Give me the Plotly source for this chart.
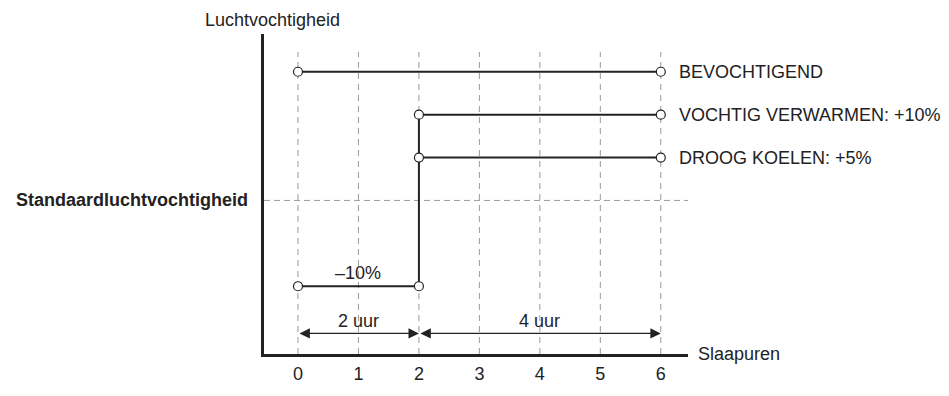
import plotly.graph_objects as go

# uren (x) en luchtvochtigheid t.o.v. standaard (y, in %)
hours = [0, 1, 2, 3, 4, 5, 6]
bevochtigend_x = [0, 6]
bevochtigend_y = [15, 15]
min10_x = [0, 2]
min10_y = [-10, -10]
step_x = [2, 2]
step_y = [-10, 10]
vochtig_x = [2, 6]
vochtig_y = [10, 10]
droog_x = [2, 6]
droog_y = [5, 5]
standard_level = 0
series_labels = ["BEVOCHTIGEND", "VOCHTIG VERWARMEN: +10%", "DROOG KOELEN: +5%"]
series_levels = [15, 10, 5]
spans = [(0, 2, "2 uur"), (2, 6, "4 uur")]
span_y = -15.5
grid_top = 17.3
y_range = [-17.9, 19.4]
x_range = [-0.562, 6.45]

FONT = "Liberation Sans, Arial, sans-serif"
GRID = "#9a9a9a"
INK = "#222"
FS = 18

fig = go.Figure()

# verticale stippellijnen per uur
gx, gy = [], []
for h in hours:
    gx += [h, h, None]
    gy += [y_range[0], grid_top, None]
fig.add_trace(go.Scatter(x=gx, y=gy, mode="lines",
                         line=dict(color=GRID, width=1, dash="6px,5px"),
                         hoverinfo="skip"))
# standaardniveau
fig.add_trace(go.Scatter(x=[x_range[0], x_range[1]], y=[standard_level] * 2, mode="lines",
                         line=dict(color=GRID, width=1, dash="6px,4px"),
                         hoverinfo="skip"))

# trap (verticaal op 2 uur)
fig.add_trace(go.Scatter(x=step_x, y=step_y, mode="lines",
                         line=dict(color=INK, width=2), hoverinfo="skip"))

marker = dict(symbol="circle", size=9, color="white", line=dict(color=INK, width=1.2))
for xs, ys in [(bevochtigend_x, bevochtigend_y), (min10_x, min10_y),
               (vochtig_x, vochtig_y), (droog_x, droog_y)]:
    fig.add_trace(go.Scatter(x=xs, y=ys, mode="lines+markers",
                             line=dict(color=INK, width=2), marker=marker,
                             cliponaxis=False, hoverinfo="skip"))

annotations = []
for label, lvl in zip(series_labels, series_levels):
    annotations.append(dict(x=6.276, y=lvl, xref="x", yref="y", text=label,
                            showarrow=False, xanchor="left", yanchor="middle"))
annotations.append(dict(x=1, y=-8.4, xref="x", yref="y", text="–10%", showarrow=False))
for a, b, label in spans:
    annotations.append(dict(x=b, y=span_y, ax=a, ay=span_y, xref="x", yref="y",
                            axref="x", ayref="y", text="", showarrow=True,
                            arrowhead=2, startarrowhead=2, arrowside="end+start",
                            arrowsize=1.6, startarrowsize=1.6, arrowwidth=1.3,
                            arrowcolor=INK, standoff=0, startstandoff=0))
    annotations.append(dict(x=(a + b) / 2, y=-14.0, xref="x", yref="y", text=label,
                            showarrow=False))

# plot area: x 264..688 px, y 34..368 px
annotations += [
    dict(x=(272 - 264) / 424, y=(368 - 19.5) / 334, xref="paper", yref="paper",
         text="Luchtvochtigheid", showarrow=False, xanchor="center", yanchor="middle"),
    dict(x=(250 - 264) / 424, y=standard_level, xref="paper", yref="y",
         text="<b>Standaardluchtvochtigheid</b>", showarrow=False,
         xanchor="right", yanchor="middle"),
    dict(x=(696 - 264) / 424, y=y_range[0], xref="paper", yref="y", text="Slaapuren",
         showarrow=False, xanchor="left", yanchor="middle"),
]

fig.update_layout(
    width=949, height=396,
    margin=dict(l=264, r=261, t=34, b=28),
    paper_bgcolor="white", plot_bgcolor="white",
    showlegend=False,
    font=dict(family=FONT, size=FS, color=INK),
    annotations=annotations,
)
fig.update_xaxes(range=x_range, showgrid=False, zeroline=False,
                 showline=True, linecolor=INK, linewidth=3,
                 tickvals=hours, ticks="", ticklabelstandoff=1,
                 tickfont=dict(size=FS, color=INK))
fig.update_yaxes(range=y_range, showgrid=False, zeroline=False,
                 showline=True, linecolor=INK, linewidth=3,
                 showticklabels=False, ticks="")

fig.write_html("out.html", config={"displayModeBar": False},
               post_script="document.body.style.margin='0';document.body.style.overflow='hidden';")
